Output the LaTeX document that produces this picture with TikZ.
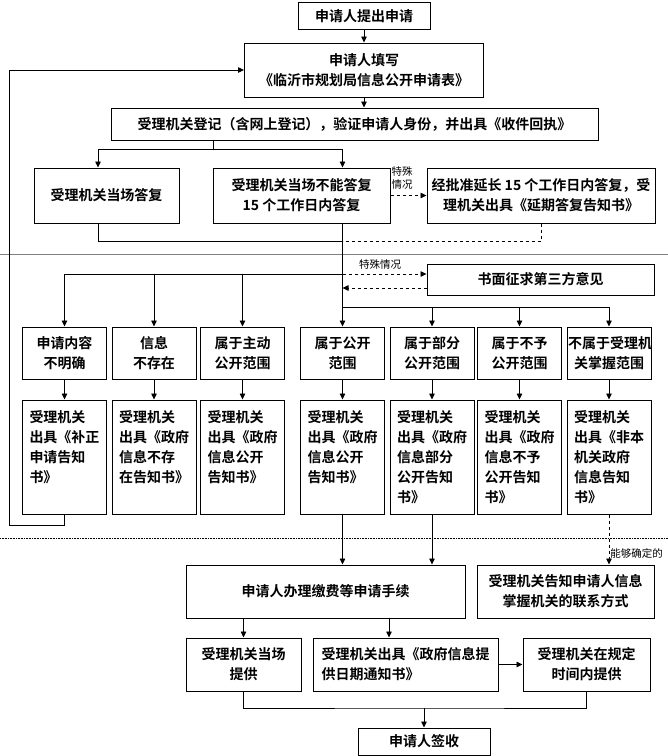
\documentclass[tikz,border=0pt]{standalone}
\usepackage{fontspec}
\setmainfont{Noto Sans CJK SC}[BoldFont={Noto Sans CJK SC Bold}]
\usetikzlibrary{arrows.meta}

\begin{document}
\begin{tikzpicture}[x=1pt, y=-1pt, line width=0.8pt,
  box/.style={draw, line width=1pt, align=center, inner sep=2pt, font=\fontsize{14}{20}\selectfont\bfseries},
  cell/.style={box, minimum width=84, minimum height=52, text width=82, inner sep=1pt},
  doc/.style={box, minimum width=84, minimum height=114, text width=70, align=left},
  small/.style={font=\fontsize{10.5}{13}\selectfont, inner sep=0pt, align=left},
  arr/.style={-{Triangle[length=6pt,width=5.5pt]}}]
  \useasboundingbox (0,0) rectangle (668,756);

  % Application
  \node[box, minimum width=132, minimum height=27] (apply) at (364,16) {申请人提出申请};
  \node[box, minimum width=239, minimum height=54] (form) at (364,70) {申请人填写\\《临沂市规划局信息公开申请表》};
  \node[box, minimum width=487, minimum height=32] (register) at (354.5,124) {受理机关登记（含网上登记），验证申请人身份，并出具《收件回执》};

  % Reply
  \node[box, minimum width=145, minimum height=55] (onsite) at (106.5,195.5) {受理机关当场答复};
  \node[box, minimum width=177, minimum height=55] (delay) at (301.5,195.5) {受理机关当场不能答复\\15 个工作日内答复};
  \node[box, minimum width=228, minimum height=55] (extend) at (541,195.5) {经批准延长 15 个工作日内答复，受\\理机关出具《延期答复告知书》};
  \node[small] (lab1) at (402,177.5) {特殊\\情况};

  % Third party
  \node[box, minimum width=227, minimum height=31] (third) at (540.5,279.5) {书面征求第三方意见};
  \node[small] (lab2) at (380,265) {特殊情况};

  % Scope
  \node[cell] (r1) at (64.5,353) {申请内容\\不明确};
  \node[cell] (r2) at (154,353) {信息\\不存在};
  \node[cell] (r3) at (242.5,353) {属于主动\\公开范围};
  \node[cell] (r4) at (342.5,353) {属于公开\\范围};
  \node[cell] (r5) at (432,353) {属于部分\\公开范围};
  \node[cell] (r6) at (519.5,353) {属于不予\\公开范围};
  \node[cell] (r7) at (609,353) {不属于受理机\\关掌握范围};

  % Notices
  \node[doc] (s1) at (64.5,457) {受理机关\\出具《补正\\申请告知\\书》\\~};
  \node[doc] (s2) at (154,457) {受理机关\\出具《政府\\信息不存\\在告知书》\\~};
  \node[doc] (s3) at (242.5,457) {受理机关\\出具《政府\\信息公开\\告知书》\\~};
  \node[doc] (s4) at (342.5,457) {受理机关\\出具《政府\\信息公开\\告知书》\\~};
  \node[doc] (s5) at (432,457) {受理机关\\出具《政府\\信息部分\\公开告知\\书》};
  \node[doc] (s6) at (519.5,457) {受理机关\\出具《政府\\信息不予\\公开告知\\书》};
  \node[doc] (s7) at (609,457) {受理机关\\出具《非本\\机关政府\\信息告知\\书》};

  % Providing
  \node[box, minimum width=279, minimum height=53] (fee) at (325.5,591.5) {申请人办理缴费等申请手续};
  \node[box, minimum width=177, minimum height=53] (contact) at (565.5,591.5) {受理机关告知申请人信息\\掌握机关的联系方式};
  \node[small] (lab3) at (610,553) [anchor=west] {能够确定的};
  \node[box, minimum width=115, minimum height=53] (give) at (243.5,664.5) {受理机关当场\\提供};
  \node[box, minimum width=185, minimum height=53, align=left] (notice) at (405.5,664.5) {受理机关出具《政府信息提\\供日期通知书》};
  \node[box, minimum width=127, minimum height=53] (ontime) at (586.5,664.5) {受理机关在规定\\时间内提供};
  \node[box, minimum width=132, minimum height=27] (sign) at (424,741.5) {申请人签收};

  % Separators
  \draw[gray, line width=0.6pt] (0,254) -- (668,254);
  \draw[densely dotted, line width=0.6pt] (0,538) -- (668,538);

  % Top connectors
  \draw[arr] (apply.south) -- (apply.south |- form.north);
  \draw[arr] (form.south) -- (form.south |- register.north);
  \coordinate (split) at (213,149);
  \draw (register.south -| split) -- (split);
  \draw[arr] (split) -| ([xshift=-8.5pt]onsite.north);
  \draw[arr] (split) -| (r4.north |- delay.north);
  \draw[arr, dashed] (delay.east) -- (extend.west);
  \coordinate (join) at (342.5,241);
  \draw ([xshift=-8.5pt]onsite.south) |- (join);
  \draw[dashed] (extend.south) |- (join);

  % Spine and branches
  \draw[arr] (delay.south -| r4.north) -- (r4.north);
  \coordinate (lsplit) at (342.5,274);
  \coordinate (rsplit) at (342.5,307);
  \draw[arr] (lsplit) -| (r1.north);
  \draw[arr] (lsplit -| r2.north) -- (r2.north);
  \draw[arr] (lsplit -| r3.north) -- (r3.north);
  \draw[arr] (rsplit) -| (r7.north);
  \draw[arr] (rsplit -| r5.north) -- (r5.north);
  \draw[arr] (rsplit -| r6.north) -- (r6.north);
  \draw[arr, dashed] (lsplit) -- (lsplit -| third.west);
  \coordinate (back) at ([yshift=-8.5pt]third.west);
  \draw[arr, dashed] (back) -- (back -| lsplit);

  % Scope to notices
  \draw[arr] (r1.south) -- (s1.north);
  \draw[arr] (r2.south) -- (s2.north);
  \draw[arr] (r3.south) -- (s3.north);
  \draw[arr] (r4.south) -- (s4.north);
  \draw[arr] (r5.south) -- (s5.north);
  \draw[arr] (r6.south) -- (s6.north);
  \draw[arr] (r7.south) -- (s7.north);

  % Loop back
  \coordinate (loop) at (9,525);
  \draw[arr] (s1.south) |- (loop) |- (form.west);

  % Bottom connectors
  \draw[arr] (s4.south) -- (s4.south |- fee.north);
  \draw[arr] (s5.south) -- (s5.south |- fee.north);
  \draw[arr, dashed] (s7.south) -- (s7.south |- contact.north);
  \draw[arr] (fee.south -| give.north) -- (give.north);
  \coordinate (n2) at ([xshift=-16.5pt]notice.north);
  \draw[arr] (n2 |- fee.south) -- (n2);
  \draw[arr] (notice.east) -- (ontime.west);
  \coordinate (merge) at (424,708);
  \draw (give.south) |- (merge) -| (ontime.south);
  \draw[arr] (merge) -- (sign.north);

\end{tikzpicture}
\end{document}
